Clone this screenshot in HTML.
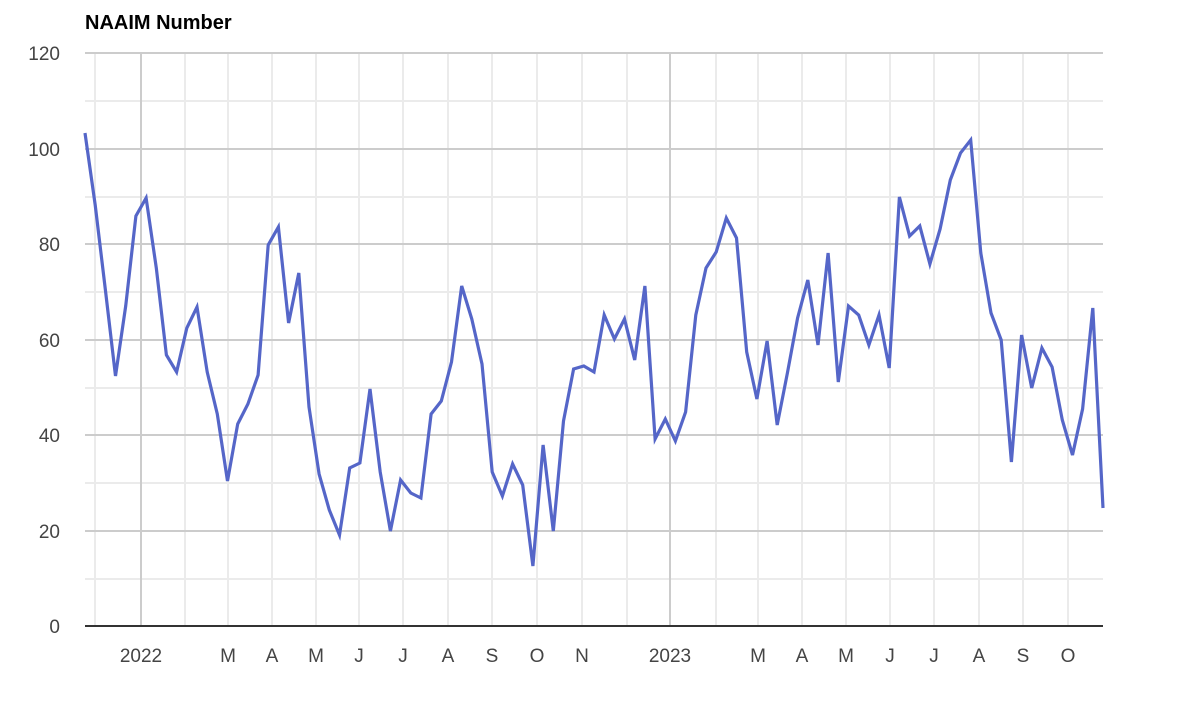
<!DOCTYPE html>
<html><head><style>
body{margin:0;background:#fff;}
svg text{font-family:"Liberation Sans",Arial,sans-serif;}
</style></head><body>
<svg width="1178" height="700" xmlns="http://www.w3.org/2000/svg">
<text x="85" y="29" font-size="20" font-weight="bold" fill="#000">NAAIM Number</text>
<g stroke="#ebebeb" stroke-width="2">
<line x1="85" x2="1103" y1="101" y2="101"/><line x1="85" x2="1103" y1="197" y2="197"/><line x1="85" x2="1103" y1="292" y2="292"/><line x1="85" x2="1103" y1="388" y2="388"/><line x1="85" x2="1103" y1="483" y2="483"/><line x1="85" x2="1103" y1="579" y2="579"/>
<line x1="95" x2="95" y1="53" y2="626"/><line x1="185" x2="185" y1="53" y2="626"/><line x1="228" x2="228" y1="53" y2="626"/><line x1="272" x2="272" y1="53" y2="626"/><line x1="316" x2="316" y1="53" y2="626"/><line x1="359" x2="359" y1="53" y2="626"/><line x1="403" x2="403" y1="53" y2="626"/><line x1="448" x2="448" y1="53" y2="626"/><line x1="492" x2="492" y1="53" y2="626"/><line x1="537" x2="537" y1="53" y2="626"/><line x1="582" x2="582" y1="53" y2="626"/><line x1="627" x2="627" y1="53" y2="626"/><line x1="716" x2="716" y1="53" y2="626"/><line x1="758" x2="758" y1="53" y2="626"/><line x1="802" x2="802" y1="53" y2="626"/><line x1="846" x2="846" y1="53" y2="626"/><line x1="890" x2="890" y1="53" y2="626"/><line x1="934" x2="934" y1="53" y2="626"/><line x1="979" x2="979" y1="53" y2="626"/><line x1="1023" x2="1023" y1="53" y2="626"/><line x1="1068" x2="1068" y1="53" y2="626"/>
</g>
<g stroke="#cccccc" stroke-width="2">
<line x1="85" x2="1103" y1="53" y2="53"/><line x1="85" x2="1103" y1="149" y2="149"/><line x1="85" x2="1103" y1="244" y2="244"/><line x1="85" x2="1103" y1="340" y2="340"/><line x1="85" x2="1103" y1="435" y2="435"/><line x1="85" x2="1103" y1="531" y2="531"/>
<line x1="141" x2="141" y1="53" y2="626"/><line x1="670" x2="670" y1="53" y2="626"/>
</g>
<line x1="85" x2="1103" y1="626" y2="626" stroke="#333" stroke-width="2"/>
<g font-size="19" fill="#444" text-anchor="end">
<text x="60" y="60">120</text><text x="60" y="156">100</text><text x="60" y="251">80</text><text x="60" y="347">60</text><text x="60" y="442">40</text><text x="60" y="538">20</text><text x="60" y="633">0</text>
</g>
<g font-size="19" fill="#444" text-anchor="middle">
<text x="141" y="662">2022</text><text x="228" y="662">M</text><text x="272" y="662">A</text><text x="316" y="662">M</text><text x="359" y="662">J</text><text x="403" y="662">J</text><text x="448" y="662">A</text><text x="492" y="662">S</text><text x="537" y="662">O</text><text x="582" y="662">N</text><text x="670" y="662">2023</text><text x="758" y="662">M</text><text x="802" y="662">A</text><text x="846" y="662">M</text><text x="890" y="662">J</text><text x="934" y="662">J</text><text x="979" y="662">A</text><text x="1023" y="662">S</text><text x="1068" y="662">O</text>
</g>
<polyline id="ln" fill="none" stroke="#5566c8" stroke-width="3.2" stroke-linejoin="miter" points=""/>
<script>
var ys=[133,205,290,376,306,216,198,268,355,372,328,307,372,414,481,424,404,375,245,227,323,273,407,474,510,535,468,463,389,472,531,480,493,498,414,401,362,286,319,364,472,496,464,485,566,445,531,421,369,366,372,315,339,319,360,286,439,419,441,412,315,268,252,218,238,352,399,341,425,373,318,280,345,253,382,306,315,345,315,368,197,236,226,264,229,180,153,140,253,313,340,462,335,388,348,367,420,455,409,308,508];
var p=ys.map(function(y,i){return (85+i*10.18).toFixed(1)+","+y;}).join(" ");
document.getElementById("ln").setAttribute("points",p);
</script>
</svg>
</body></html>
